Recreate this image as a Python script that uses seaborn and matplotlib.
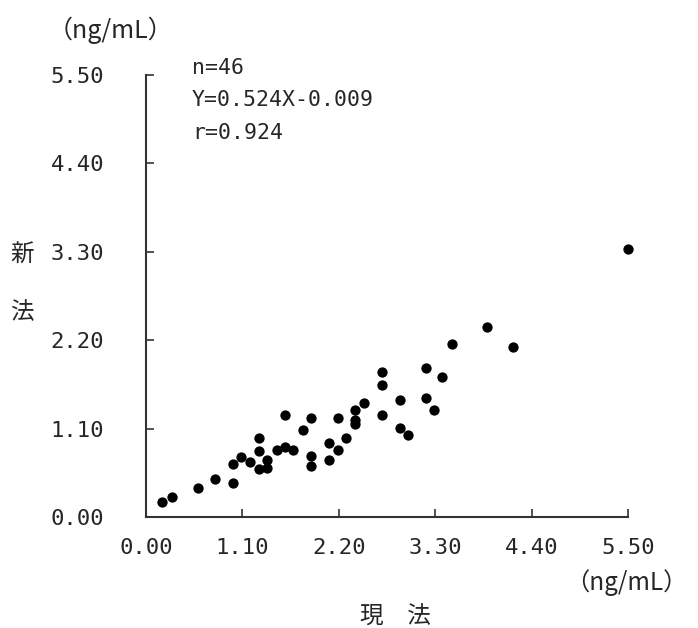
import numpy as np
import pandas as pd
import matplotlib
matplotlib.use("Agg")
import matplotlib.pyplot as plt
import seaborn as sns

# values (ng/mL)
current_method = [0.18, 0.30, 0.60, 0.79, 0.99, 0.99, 1.08, 1.19, 1.29, 1.29,
                  1.29, 1.38, 1.38, 1.49, 1.59, 1.68, 1.59, 1.79, 1.88, 1.88,
                  1.88, 2.09, 2.09, 2.19, 2.19, 2.28, 2.39, 2.39, 2.39, 2.49,
                  2.69, 2.69, 2.69, 2.90, 2.90, 2.99, 3.19, 3.19, 3.29, 3.38,
                  3.49, 3.89, 4.19, 5.50]
new_method = [0.19, 0.25, 0.37, 0.48, 0.43, 0.66, 0.75, 0.69, 0.99, 0.82,
              0.60, 0.72, 0.62, 0.84, 0.87, 0.84, 1.27, 1.09, 1.23, 0.76,
              0.64, 0.93, 0.72, 1.23, 0.84, 0.99, 1.34, 1.21, 1.16, 1.42,
              1.81, 1.64, 1.27, 1.46, 1.11, 1.03, 1.86, 1.49, 1.34, 1.74,
              2.15, 2.36, 2.12, 3.33]
tick_values = [0.00, 1.10, 2.20, 3.30, 4.40, 5.50]
stats_lines = ["n=46", "Y=0.524X-0.009", "r=0.924"]
unit = "（ng/mL）"

df = pd.DataFrame({"x": current_method, "y": new_method})

sns.set_style("white")
plt.rcParams['font.family'] = ['DejaVu Sans Mono', 'Noto Sans CJK JP']
jp = ['Noto Sans CJK JP', 'DejaVu Sans']

fig = plt.figure(figsize=(6.98, 6.28), dpi=100)
ax = fig.add_axes([0.209, 0.176, 0.691, 0.705])

sns.scatterplot(data=df, x="x", y="y", ax=ax, color="black", s=55,
                edgecolor="black", linewidth=0, legend=False, clip_on=False)

ax.set_xlim(0, 5.5)
ax.set_ylim(0, 5.5)
ax.set_xticks(tick_values)
ax.set_yticks(tick_values)
ax.set_xticklabels([f"{v:.2f}" for v in tick_values], fontsize=16)
ax.set_yticklabels([f"{v:.2f}" for v in tick_values], fontsize=16)
ax.set_xlabel("")
ax.set_ylabel("")

for side in ["top", "right"]:
    ax.spines[side].set_visible(False)
for side in ["left", "bottom"]:
    ax.spines[side].set_color("#333333")
    ax.spines[side].set_linewidth(1.5)
ax.tick_params(axis="x", bottom=True, direction="in", length=6, width=1.2,
               color="#333333", pad=15)
ax.tick_params(axis="y", left=True, direction="in", length=6, width=1.2,
               color="#333333", pad=30)

# regression stats
for i, line in enumerate(stats_lines):
    fig.text(0.275, 0.892 - i * 0.052, line, fontsize=15.5, va="center", ha="left")

# units and axis titles
fig.text(0.158, 0.952, unit, fontsize=18, ha="center", va="center", family=jp)
fig.text(0.985, 0.073, unit, fontsize=17.5, ha="right", va="center", family=jp)
fig.text(0.566, 0.018, "現　法", fontsize=17, ha="center", va="center", family=jp)
fig.text(0.032, 0.594, "新", fontsize=17, ha="center", va="center", family=jp)
fig.text(0.032, 0.502, "法", fontsize=17, ha="center", va="center", family=jp)

fig.savefig("out.png", dpi=100)
